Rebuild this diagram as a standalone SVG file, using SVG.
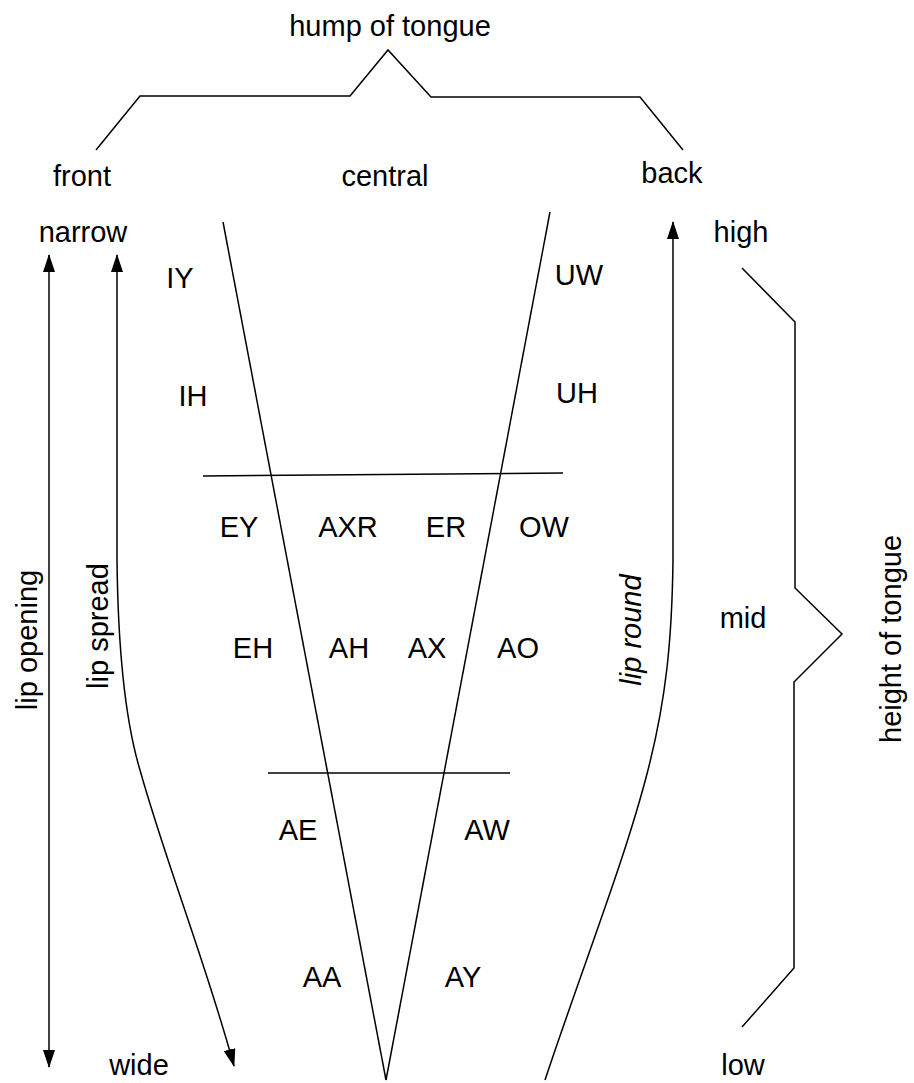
<svg xmlns="http://www.w3.org/2000/svg" width="914" height="1083" viewBox="0 0 914 1083">
  <style>
    text { font-family: "Liberation Sans", Arial, sans-serif; font-size: 29px; fill: #000; }
    .c { text-anchor: middle; }
    .ln { fill: none; stroke: #000; stroke-width: 1.5; }
    .it { font-style: italic; }
  </style>
  <defs>
    <marker id="ah" viewBox="0 0 18 12" refX="17" refY="6" markerWidth="18" markerHeight="12" markerUnits="userSpaceOnUse" orient="auto-start-reverse">
      <path d="M0,0 L18,6 L0,12 Z" fill="#000"/>
    </marker>
  </defs>
  <rect width="914" height="1083" fill="#fff"/>

  <!-- brackets and vowel chart lines -->
  <g id="connectors">
    <polyline id="hump-brace" class="ln" points="96,150 140,96 350,96 388,50 431,97 640,97 683,150"/>
    <polyline id="height-brace" class="ln" points="742,268 795,322 795,588 842,634 794,682 794,968 742,1027"/>
    <line class="ln" x1="223" y1="222" x2="386" y2="1080"/>
    <line class="ln" x1="550" y1="212" x2="386" y2="1080"/>
    <line class="ln" x1="203" y1="476" x2="563" y2="473"/>
    <line class="ln" x1="268" y1="773" x2="510" y2="773"/>
    <line id="lip-opening-arrow" class="ln" x1="49" y1="255" x2="49" y2="1067" marker-start="url(#ah)" marker-end="url(#ah)"/>
    <path id="lip-spread-arrow" class="ln" d="M117,255 L117,560 C118,650 125,720 140,770 C165,860 205,960 234,1066" marker-start="url(#ah)" marker-end="url(#ah)"/>
    <path id="lip-round-arrow" class="ln" d="M673,222 L673,560 C672,640 666,700 648,770 C625,860 585,960 545,1080" marker-start="url(#ah)"/>
  </g>

  <g id="hump">
    <text class="c" x="390" y="36">hump of tongue</text>
  </g>
  <g id="front"><text class="c" x="82" y="186">front</text></g>
  <g id="central"><text class="c" x="385" y="186">central</text></g>
  <g id="back"><text class="c" x="672" y="183">back</text></g>
  <g id="narrow"><text class="c" x="83" y="242">narrow</text></g>
  <g id="wide"><text class="c" x="139" y="1075">wide</text></g>
  <g id="high"><text class="c" x="741" y="242">high</text></g>
  <g id="mid"><text class="c" x="743" y="628">mid</text></g>
  <g id="low"><text class="c" x="743" y="1075">low</text></g>

  <g id="lip-opening"><text class="c" transform="translate(37,640) rotate(-90)">lip opening</text></g>
  <g id="lip-spread"><text class="c" transform="translate(108,626) rotate(-90)">lip spread</text></g>
  <g id="lip-round"><text class="c it" transform="translate(641,630) rotate(-90)">lip round</text></g>
  <g id="height-of-tongue"><text class="c" transform="translate(901,639) rotate(-90)">height of tongue</text></g>

  <g id="vowels">
    <g id="IY"><text class="c" x="180" y="288">IY</text></g>
    <g id="UW"><text class="c" x="579" y="285">UW</text></g>
    <g id="IH"><text class="c" x="193" y="406">IH</text></g>
    <g id="UH"><text class="c" x="577" y="403">UH</text></g>
    <g id="EY"><text class="c" x="239" y="537">EY</text></g>
    <g id="AXR"><text class="c" x="348" y="537">AXR</text></g>
    <g id="ER"><text class="c" x="446" y="537">ER</text></g>
    <g id="OW"><text class="c" x="544" y="537">OW</text></g>
    <g id="EH"><text class="c" x="253" y="658">EH</text></g>
    <g id="AH"><text class="c" x="349" y="658">AH</text></g>
    <g id="AX"><text class="c" x="427" y="658">AX</text></g>
    <g id="AO"><text class="c" x="518" y="658">AO</text></g>
    <g id="AE"><text class="c" x="298" y="840">AE</text></g>
    <g id="AW"><text class="c" x="487" y="840">AW</text></g>
    <g id="AA"><text class="c" x="322" y="987">AA</text></g>
    <g id="AY"><text class="c" x="463" y="987">AY</text></g>
  </g>
</svg>
